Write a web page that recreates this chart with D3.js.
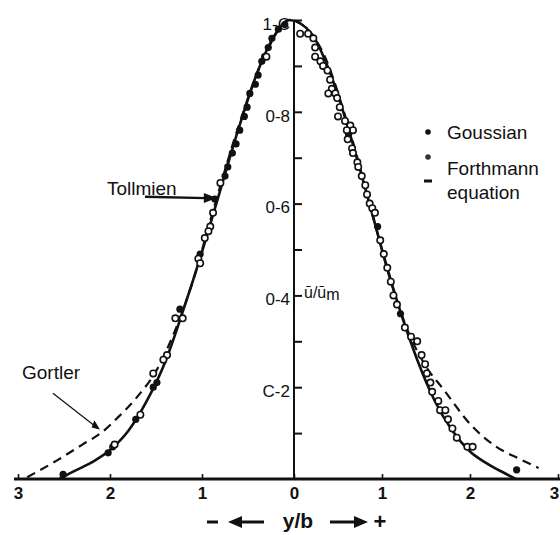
<!DOCTYPE html>
<html>
<head>
<meta charset="utf-8">
<script src="https://cdn.jsdelivr.net/npm/d3@7"></script>
<style>
  html, body { margin: 0; padding: 0; background: #fff; }
  svg { display: block; }
  text { font-family: "Liberation Sans", Arial, sans-serif; fill: #111; }
</style>
</head>
<body>
<svg id="chart" width="560" height="535"></svg>
<script>
// Velocity profile across a jet: ū/ūm against y/b

// solid curve (Tollmien / Gaussian profile)
const solidX = [-2.55, -2.4, -2.2, -2.0, -1.8, -1.6, -1.4, -1.2, -1.0, -0.8, -0.6, -0.4, -0.2, -0.05, 0.2, 0.4, 0.6, 0.8, 1.0, 1.2, 1.4, 1.6, 1.8, 2.0, 2.2, 2.4, 2.52];
const solidU = [0.0, 0.016, 0.036, 0.063, 0.105, 0.17, 0.255, 0.37, 0.495, 0.63, 0.765, 0.885, 0.97, 1.0, 0.97, 0.89, 0.775, 0.64, 0.5, 0.37, 0.26, 0.17, 0.105, 0.06, 0.033, 0.012, 0.0];

// dashed curve (Görtler)
const dashX = [-2.9, -2.58, -2.3, -2.1, -1.9, -1.7, -1.5, -1.3, -1.1, -0.9, -0.6, -0.3, -0.05, 0.3, 0.6, 0.9, 1.1, 1.3, 1.5, 1.7, 2.0, 2.3, 2.55, 2.78];
const dashU = [0.004, 0.04, 0.075, 0.10, 0.137, 0.18, 0.235, 0.32, 0.43, 0.57, 0.77, 0.93, 1.0, 0.94, 0.78, 0.57, 0.43, 0.32, 0.245, 0.195, 0.12, 0.07, 0.045, 0.024];

// measured points, filled markers
const filledX = [-0.10, -0.17, -0.24, -0.28, -0.32, -0.35, -0.39, -0.42, -0.48, -0.51, -0.54, -0.59, -0.63, -0.67, -0.72, -0.75, -0.86, -1.02, -1.24, -1.49, -1.53, -1.72, -1.97, -2.02, -2.51, 0.62, 0.95, 1.21, 2.53];
const filledU = [0.99, 0.98, 0.96, 0.94, 0.92, 0.91, 0.88, 0.86, 0.84, 0.81, 0.79, 0.76, 0.73, 0.71, 0.68, 0.66, 0.61, 0.49, 0.37, 0.21, 0.20, 0.13, 0.07, 0.057, 0.01, 0.75, 0.55, 0.36, 0.02];

// measured points, open markers
const openX = [-0.30, -0.80, -0.88, -0.91, -0.93, -0.97, -1.04, -1.02, -1.29, -1.21, -1.38, -1.42, -1.53, -1.67, -1.95,
  0.07, 0.16, 0.22, 0.24, 0.24, 0.30, 0.33, 0.38, 0.41, 0.43, 0.39, 0.47, 0.49, 0.52, 0.50, 0.58, 0.64, 0.67, 0.60, 0.61, 0.66, 0.67, 0.72, 0.73, 0.77, 0.81, 0.83, 0.86, 0.89, 0.92,
  0.98, 1.02, 1.06, 1.10, 1.13, 1.17, 1.26, 1.33, 1.40, 1.45, 1.49, 1.51, 1.55, 1.57, 1.64, 1.66, 1.72, 1.75, 1.80, 1.85, 1.97, 2.03];
const openU = [0.92, 0.645, 0.58, 0.55, 0.54, 0.525, 0.48, 0.47, 0.35, 0.35, 0.27, 0.26, 0.23, 0.14, 0.075,
  0.97, 0.97, 0.96, 0.94, 0.92, 0.91, 0.90, 0.89, 0.87, 0.85, 0.84, 0.84, 0.83, 0.81, 0.79, 0.78, 0.77, 0.76, 0.76, 0.74, 0.72, 0.71, 0.69, 0.68, 0.66, 0.64, 0.62, 0.60, 0.59, 0.58,
  0.52, 0.49, 0.46, 0.43, 0.40, 0.38, 0.33, 0.31, 0.30, 0.27, 0.25, 0.23, 0.21, 0.19, 0.17, 0.15, 0.15, 0.13, 0.11, 0.09, 0.07, 0.07];

// axis ticks and labels
const xTickValues = [-3, -2, -1, 0, 1, 2, 3];
const xTickLabels = ["3", "2", "1", "0", "1", "2", "3"];
const yTickValues = [0.1, 0.2, 0.3, 0.4, 0.5, 0.6, 0.7, 0.8, 0.9, 1.0];
const yTickLabels = ["", "C-2", "", "0-4", "", "0-6", "", "0-8", "", "1-C"];

// legend entries
const legendNames = ["Goussian", "Forthmann", "equation"];

const svg = d3.select("#chart");

// the scanned axis is slightly wider on the negative side
const x = d3.scaleLinear().domain([-3, 0, 3]).range([18, 294, 558]);
const y = d3.scaleLinear().domain([0, 1]).range([479, 20]);

// ---- curves ----
const line = d3.line().x(d => x(d[0])).y(d => y(d[1])).curve(d3.curveMonotoneX);

svg.append("path")
  .datum(d3.zip(dashX, dashU))
  .attr("d", line)
  .attr("fill", "none")
  .attr("stroke", "#111")
  .attr("stroke-width", 2.2)
  .attr("stroke-dasharray", "9,6");

svg.append("path")
  .datum(d3.zip(solidX, solidU))
  .attr("d", line)
  .attr("fill", "none")
  .attr("stroke", "#111")
  .attr("stroke-width", 2.6);

// ---- axes ----
const xAxis = d3.axisBottom(x)
  .tickValues(xTickValues)
  .tickFormat((d, i) => xTickLabels[i])
  .tickSizeInner(-5)
  .tickSizeOuter(0)
  .tickPadding(8);

const gx = svg.append("g").attr("transform", `translate(0,${y(0)})`).call(xAxis);
gx.select(".domain").remove();
gx.selectAll(".tick line").attr("stroke", "#111").attr("stroke-width", 1.6);
gx.selectAll(".tick text")
  .attr("font-size", 17).attr("font-weight", "bold").attr("fill", "#111")
  .attr("dx", d => d === 3 ? -4 : 0)
  .style("font-family", "'Liberation Sans', Arial, sans-serif");
svg.append("line")
  .attr("x1", x(-3) - 4).attr("x2", 560)
  .attr("y1", y(0)).attr("y2", y(0))
  .attr("stroke", "#111").attr("stroke-width", 3);

const yAxis = d3.axisLeft(y)
  .tickValues(yTickValues)
  .tickFormat((d, i) => yTickLabels[i])
  .tickSizeInner(-8)
  .tickSizeOuter(0)
  .tickPadding(4);

const gy = svg.append("g").attr("transform", `translate(${x(0)},0)`).call(yAxis);
gy.select(".domain").remove();
gy.selectAll(".tick line").attr("stroke", "#111").attr("stroke-width", 2);
gy.selectAll(".tick text")
  .attr("font-size", 17).attr("fill", "#222").attr("dy", "0.55em")
  .style("font-family", "'Liberation Sans', Arial, sans-serif");
svg.append("line")
  .attr("x1", x(0)).attr("x2", x(0))
  .attr("y1", y(1.0)).attr("y2", y(0))
  .attr("stroke", "#111").attr("stroke-width", 2);

// axis title on the vertical axis
const yt = svg.append("text").attr("x", x(0) + 10).attr("y", y(0.4) + 3).attr("font-size", 16);
yt.append("tspan").text("ū/ū");
yt.append("tspan").text("m").attr("dy", 2);

// ---- measured points ----
svg.append("g").selectAll("circle")
  .data(d3.zip(filledX, filledU))
  .join("circle")
  .attr("cx", d => x(d[0])).attr("cy", d => y(d[1]))
  .attr("r", 3.6)
  .attr("fill", "#111");

svg.append("g").selectAll("circle")
  .data(d3.zip(openX, openU))
  .join("circle")
  .attr("cx", d => x(d[0])).attr("cy", d => y(d[1]))
  .attr("r", 3.2)
  .attr("fill", "#fff")
  .attr("stroke", "#111")
  .attr("stroke-width", 1.6);

// ---- annotations ----
svg.append("text").attr("x", 107).attr("y", 195).attr("font-size", 19).text("Tollmien");
svg.append("line")
  .attr("x1", x(-1.62)).attr("y1", y(0.615))
  .attr("x2", x(-0.95)).attr("y2", y(0.612))
  .attr("stroke", "#111").attr("stroke-width", 2.4);
svg.append("path")
  .attr("d", `M${x(-0.98)},${y(0.612) - 5} L${x(-0.84)},${y(0.612)} L${x(-0.98)},${y(0.612) + 5} Z`)
  .attr("fill", "#111");

svg.append("text").attr("x", 22).attr("y", 379).attr("font-size", 19).text("Gortler");
svg.append("line")
  .attr("x1", x(-2.62)).attr("y1", y(0.187))
  .attr("x2", x(-2.13)).attr("y2", y(0.11))
  .attr("stroke", "#111").attr("stroke-width", 1.2);
svg.append("path")
  .attr("d", `M${x(-2.17)},${y(0.128)} L${x(-2.11)},${y(0.108)} L${x(-2.2)},${y(0.112)} Z`)
  .attr("fill", "#111");

// ---- legend ----
const lg = svg.append("g");
lg.append("circle").attr("cx", 428).attr("cy", 132).attr("r", 2.8).attr("fill", "#111");
lg.append("circle").attr("cx", 428).attr("cy", 157).attr("r", 2.8).attr("fill", "#334");
lg.append("line").attr("x1", 424).attr("x2", 432).attr("y1", 181).attr("y2", 181)
  .attr("stroke", "#111").attr("stroke-width", 3);
lg.selectAll("text")
  .data(legendNames)
  .join("text")
  .attr("x", 447)
  .attr("y", (d, i) => [139, 175, 199][i])
  .attr("font-size", 19)
  .text(d => d);

// ---- horizontal axis title: − ← y/b → + ----
const ty = 522;
svg.append("line").attr("x1", 207).attr("x2", 218).attr("y1", ty).attr("y2", ty)
  .attr("stroke", "#111").attr("stroke-width", 3);
svg.append("line").attr("x1", 238).attr("x2", 264).attr("y1", ty).attr("y2", ty)
  .attr("stroke", "#111").attr("stroke-width", 3);
svg.append("path").attr("d", `M228,${ty} L242,${ty - 6} L242,${ty + 6} Z`).attr("fill", "#111");
svg.append("text").attr("x", 298).attr("y", ty + 6).attr("text-anchor", "middle")
  .attr("font-size", 21).attr("font-weight", "bold").text("y/b");
svg.append("line").attr("x1", 330).attr("x2", 356).attr("y1", ty).attr("y2", ty)
  .attr("stroke", "#111").attr("stroke-width", 3);
svg.append("path").attr("d", `M368,${ty} L354,${ty - 6} L354,${ty + 6} Z`).attr("fill", "#111");
svg.append("text").attr("x", 380).attr("y", ty + 7).attr("text-anchor", "middle")
  .attr("font-size", 22).attr("font-weight", "bold").text("+");
</script>
</body>
</html>
